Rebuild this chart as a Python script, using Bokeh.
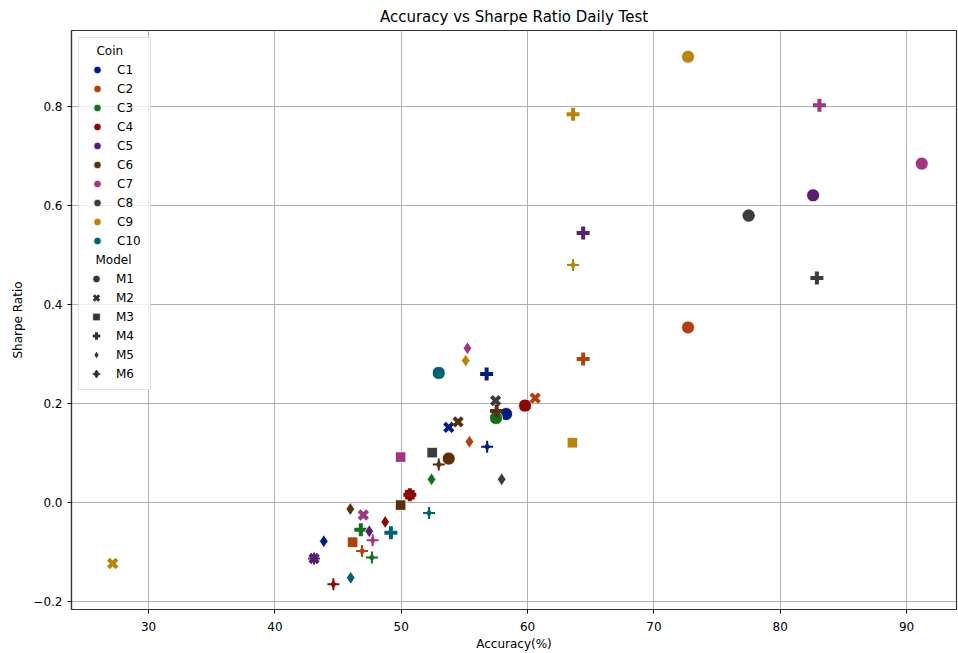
from bokeh.plotting import figure
from bokeh.models import ColumnDataSource, Legend, LegendItem, FixedTicker, CustomJSTickFormatter, Range1d
from bokeh.embed import file_html
from bokeh.resources import INLINE

coin_names = ["C1", "C2", "C3", "C4", "C5", "C6", "C7", "C8", "C9", "C10"]
model_names = ["M1", "M2", "M3", "M4", "M5", "M6"]
coin_colors = ["#001c7f", "#b1400d", "#12711c", "#8c0800", "#591e71",
               "#592f0d", "#a23582", "#3c3c3c", "#b8850a", "#006374"]

coin = ["C1", "C1", "C1", "C1", "C1",
        "C2", "C2", "C2", "C2", "C2", "C2",
        "C3", "C3", "C3", "C3", "C3",
        "C4", "C4", "C4", "C4", "C4", "C4",
        "C5", "C5", "C5", "C5", "C5",
        "C6", "C6", "C6", "C6", "C6", "C6",
        "C7", "C7", "C7", "C7", "C7", "C7",
        "C8", "C8", "C8", "C8", "C8", "C8",
        "C9", "C9", "C9", "C9", "C9", "C9",
        "C10", "C10", "C10", "C10", "C10"]
model = ["M1", "M2", "M4", "M5", "M6",
         "M1", "M2", "M3", "M4", "M5", "M6",
         "M1", "M2", "M4", "M5", "M6",
         "M1", "M2", "M3", "M4", "M5", "M6",
         "M1", "M2", "M4", "M5", "M6",
         "M1", "M2", "M3", "M4", "M5", "M6",
         "M1", "M2", "M3", "M4", "M5", "M6",
         "M1", "M2", "M3", "M4", "M5", "M6",
         "M1", "M2", "M3", "M4", "M5", "M6",
         "M1", "M2", "M4", "M5", "M6"]
accuracy = [58.3, 53.76, 56.76, 43.87, 56.8,
            72.7, 60.6, 46.15, 64.4, 55.4, 46.9,
            57.5, 57.5, 46.8, 52.4, 47.68,
            59.8, 59.8, 50.68, 50.68, 48.73, 44.63,
            82.6, 43.1, 64.4, 47.47, 43.1,
            53.76, 54.5, 49.95, 57.55, 45.97, 52.97,
            91.2, 47.0, 49.95, 83.1, 55.24, 47.74,
            77.5, 57.47, 52.45, 82.9, 57.95, 77.5,
            72.7, 27.16, 63.55, 63.6, 55.1, 63.6,
            52.97, 52.97, 49.18, 46.0, 52.2]
sharpe = [0.179, 0.152, 0.260, -0.078, 0.113,
          0.354, 0.211, -0.080, 0.290, 0.123, -0.098,
          0.171, 0.171, -0.055, 0.047, -0.111,
          0.196, 0.196, 0.016, 0.016, -0.039, -0.165,
          0.621, -0.113, 0.545, -0.058, -0.113,
          0.089, 0.163, -0.005, 0.185, -0.013, 0.077,
          0.685, -0.025, 0.092, 0.803, 0.312, -0.076,
          0.580, 0.206, 0.101, 0.454, 0.047, 0.580,
          0.901, -0.123, 0.121, 0.785, 0.287, 0.480,
          0.262, 0.262, -0.061, -0.152, -0.021]

x_ticks = [30, 40, 50, 60, 70, 80, 90]
y_ticks = [-0.2, 0.0, 0.2, 0.4, 0.6, 0.8]

color_of = dict(zip(coin_names, coin_colors))

p = figure(width=958, height=653, output_backend="svg", toolbar_location=None,
           x_range=Range1d(23.9, 93.95), y_range=Range1d(-0.216, 0.954),
           min_border_left=71, min_border_right=2, min_border_top=8, min_border_bottom=10)
p.title.text = "Accuracy vs Sharpe Ratio Daily Test"
p.title.align = "center"
p.title.text_font = "DejaVu Sans"
p.title.text_font_size = "15px"
p.title.text_font_style = "normal"
p.title.text_color = "#000000"

for ax in (p.xaxis, p.yaxis):
    ax.major_label_text_font = "DejaVu Sans"
    ax.major_label_text_font_size = "12px"
    ax.major_label_text_color = "#000000"
    ax.axis_label_text_font = "DejaVu Sans"
    ax.axis_label_text_font_size = "12px"
    ax.axis_label_text_font_style = "normal"
    ax.axis_label_text_color = "#000000"
    ax.minor_tick_line_color = None
    ax.major_tick_out = 4
    ax.major_tick_in = 0
    ax.axis_line_color = "#333333"
    ax.axis_line_width = 1.2
p.xaxis.major_label_standoff = 8
p.xaxis.axis_label_standoff = 3
p.xaxis.axis_label = "Accuracy(%)"
p.yaxis.axis_label = "Sharpe Ratio"
p.xaxis.ticker = FixedTicker(ticks=x_ticks)
p.yaxis.ticker = FixedTicker(ticks=y_ticks)
p.yaxis.formatter = CustomJSTickFormatter(code="return tick.toFixed(1).replace('-', '\u2212');")
p.xgrid.grid_line_color = "#b0b0b0"
p.ygrid.grid_line_color = "#b0b0b0"
p.outline_line_color = "#333333"
p.outline_line_width = 1.2

def subset(m):
    idx = [i for i, mm in enumerate(model) if mm == m]
    return ColumnDataSource(dict(x=[accuracy[i] for i in idx], y=[sharpe[i] for i in idx],
                                 c=[color_of[coin[i]] for i in idx]))

s1 = subset("M1")
p.scatter("x", "y", source=s1, marker="circle", size=13, fill_color="c", line_color="white", line_width=0.8)
s2 = subset("M2")
p.scatter("x", "y", source=s2, marker="x", size=12, line_color="c", line_width=4)
s3 = subset("M3")
p.scatter("x", "y", source=s3, marker="square", size=10.5, fill_color="c", line_color="white", line_width=0.8)
s4 = subset("M4")
p.scatter("x", "y", source=s4, marker="cross", size=13, line_color="c", line_width=4)
s5 = subset("M5")
p.scatter("x", "y", source=s5, marker="diamond", size=13, fill_color="c", line_color="white", line_width=0.8)
s6 = subset("M6")
p.scatter("x", "y", source=s6, marker="diamond", size=8, fill_color="c", line_color="c", line_width=0.5)
p.scatter("x", "y", source=s6, marker="cross", size=12, line_color="c", line_width=2)

# Legend (proxy renderers that draw nothing in the plot area)
nan = float("nan")
def proxy():
    return ColumnDataSource(dict(x=[nan], y=[nan]))

def style(lg):
    lg.title_text_font = "DejaVu Sans"
    lg.title_text_font_size = "12px"
    lg.title_text_font_style = "normal"
    lg.title_text_color = "#000000"
    lg.title_standoff = 2
    lg.label_text_font = "DejaVu Sans"
    lg.label_text_font_size = "12px"
    lg.label_text_color = "#000000"
    lg.glyph_height = 19
    lg.glyph_width = 24
    lg.label_height = 19
    lg.spacing = 0
    lg.label_standoff = 8
    lg.padding = 6
    lg.margin = 7

coin_items = []
for name, col in zip(coin_names, coin_colors):
    r = p.scatter("x", "y", source=proxy(), marker="circle", fill_color=col, line_color="white", line_width=0.8)
    coin_items.append(LegendItem(label=name, renderers=[r]))
rh = p.scatter("x", "y", source=proxy(), marker="circle", fill_alpha=0, line_alpha=0)
for k in range(len(model_names) + 1):
    coin_items.append(LegendItem(label="\u00a0" * (k + 1), renderers=[rh]))

gray = "#333333"
legend_specs = [("M1", "circle", 0), ("M2", "x", 3), ("M3", "square", 0),
                ("M4", "cross", 3), ("M5", "diamond", 0), ("M6", "cross", 1.5)]
model_items = []
for name, mk, lw in legend_specs:
    if lw:
        r = p.scatter("x", "y", source=proxy(), marker=mk, line_color=gray, line_width=lw)
        rs = [r]
        if name == "M6":
            r2 = p.scatter("x", "y", source=proxy(), marker="diamond", fill_color=gray, line_color=gray)
            rs.append(r2)
    else:
        r = p.scatter("x", "y", source=proxy(), marker=mk, fill_color=gray, line_color="white", line_width=0.8)
        rs = [r]
    model_items.append(LegendItem(label=name, renderers=rs))

legend = Legend(items=coin_items, location="top_left", title="\u00a0\u00a0\u00a0Coin")
style(legend)
legend.border_line_color = "#cccccc"
legend.border_line_width = 1
legend.background_fill_alpha = 0.8
p.add_layout(legend)

legend2 = Legend(items=model_items, location=(13, 226), title="\u00a0\u00a0\u00a0Model")
style(legend2)
legend2.border_line_color = None
legend2.background_fill_alpha = 0
p.add_layout(legend2)

open("out.html", "w").write(file_html(p, INLINE))
